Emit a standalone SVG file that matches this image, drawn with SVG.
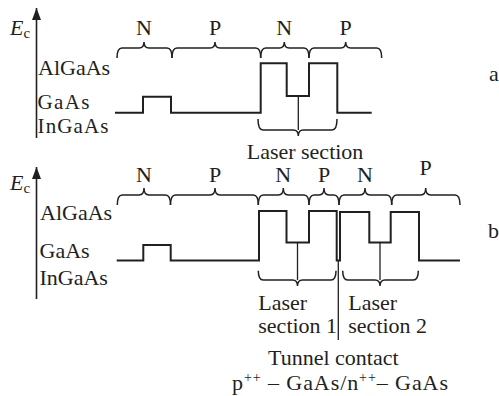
<svg xmlns="http://www.w3.org/2000/svg" width="499" height="396" viewBox="0 0 499 396">
<style>
text{font-family:"Liberation Serif","Times New Roman",serif;font-size:22px;fill:#231f20}
.mid{text-anchor:middle}
.tight{font-size:21px}
.wave{fill:none;stroke:#231f20;stroke-width:2;stroke-linejoin:miter}
.brace{fill:none;stroke:#231f20;stroke-width:1.5}
.thin{fill:none;stroke:#231f20;stroke-width:1.3}
.axis{fill:none;stroke:#231f20;stroke-width:1.6}
.ital{font-style:italic}
.sub{font-size:15px;font-style:normal}
.sup{font-size:14px}
</style>
<defs>
<marker id="arr" markerUnits="userSpaceOnUse" markerWidth="13" markerHeight="10" refX="12" refY="4.5" orient="auto">
<path d="M0,0 L12,4.5 L0,9 z" fill="#231f20"/>
</marker>
</defs>

<!-- Panel a -->
<g id="panel-a">
<g id="axis-a">
<line class="axis" x1="36.5" y1="138" x2="36.5" y2="8" marker-end="url(#arr)"/>
<text x="10" y="35" class="ital">E<tspan class="sub" dy="3">c</tspan></text>
</g>
<g id="labels-a">
<text x="38" y="75">AlGaAs</text>
<text class="tight" x="37.5" y="108.5" textLength="52">GaAs</text>
<text class="tight" x="37.5" y="132.5" textLength="71">InGaAs</text>
<text x="489" y="80.5">a</text>
</g>
<g id="wave-a">
<path class="wave" d="M115,112.7 H143 V96.7 H171 V112.7 H260.7 V63.3 H286.7 V96 H309 V63.3 H337.3 V112.7 H371.7"/>
</g>
<g id="braces-a">
<path class="brace" d="M117,58 Q117,48 122,48 L139,48 Q144,48 144,42 Q144,48 149,48 L167,48 Q172,48 172,58"/>
<path class="brace" d="M172,58 Q172,48 177,48 L210,48 Q215,48 215,42 Q215,48 220,48 L255.7,48 Q260.7,48 260.7,58"/>
<path class="brace" d="M260.7,58 Q260.7,48 265.7,48 L279.3,48 Q284.3,48 284.3,42 Q284.3,48 289.3,48 L304,48 Q309,48 309,58"/>
<path class="brace" d="M309,58 Q309,48 314,48 L340.7,48 Q345.7,48 345.7,42 Q345.7,48 350.7,48 L376.7,48 Q381.7,48 381.7,58"/>
<text class="mid" x="144" y="35">N</text>
<text class="mid" x="215" y="35">P</text>
<text class="mid" x="284.3" y="35">N</text>
<text class="mid" x="345.7" y="35">P</text>
</g>
<g id="laser-section-a">
<line class="thin" x1="298.3" y1="96" x2="298.3" y2="130"/>
<path class="brace" d="M258,119 Q258,130 263,130 L293.3,130 Q298.3,130 298.3,136 Q298.3,130 303.3,130 L332,130 Q337,130 337,119"/>
<text x="246.7" y="158.5">Laser section</text>
</g>
</g>

<!-- Panel b -->
<g id="panel-b">
<g id="axis-b">
<line class="axis" x1="36.5" y1="299" x2="36.5" y2="167" marker-end="url(#arr)"/>
<text x="10" y="190" class="ital">E<tspan class="sub" dy="3">c</tspan></text>
</g>
<g id="labels-b">
<text x="40" y="220">AlGaAs</text>
<text x="39.5" y="258">GaAs</text>
<text x="39.5" y="285">InGaAs</text>
<text x="488" y="238">b</text>
</g>
<g id="wave-b">
<path class="wave" d="M116.7,260.5 H143.3 V245 H170.7 V260.5 H259 V211 H286.5 V242.5 H309 V211 H336.7 V260.5 H340 V212 H369.3 V242.5 H390.7 V212 H419 V260.5 H460"/>
</g>
<g id="braces-b">
<path class="brace" d="M117.3,205 Q117.3,195 122.3,195 L139,195 Q144,195 144,188 Q144,195 149,195 L165.5,195 Q170.5,195 170.5,205"/>
<path class="brace" d="M170.5,205 Q170.5,195 175.5,195 L210,195 Q215,195 215,188 Q215,195 220,195 L253.3,195 Q258.3,195 258.3,205"/>
<path class="brace" d="M258.3,205 Q258.3,195 263.3,195 L278.3,195 Q283.3,195 283.3,188 Q283.3,195 288.3,195 L304,195 Q309,195 309,205"/>
<path class="brace" d="M309,205 Q309,195 314,195 L319,195 Q324,195 324,188 Q324,195 329,195 L334,195 Q339,195 339,205"/>
<path class="brace" d="M339,205 Q339,195 344,195 L360,195 Q365,195 365,188 Q365,195 370,195 L386.7,195 Q391.7,195 391.7,205"/>
<path class="brace" d="M391.7,205 Q391.7,195 396.7,195 L420.7,195 Q425.7,195 425.7,188 Q425.7,195 430.7,195 L455,195 Q460,195 460,205"/>
<text class="mid" x="144" y="181.7">N</text>
<text class="mid" x="215" y="181.7">P</text>
<text class="mid" x="283.3" y="182">N</text>
<text class="mid" x="324" y="182">P</text>
<text class="mid" x="365" y="181.7">N</text>
<text class="mid" x="425.7" y="175">P</text>
</g>
<g id="laser-section-1">
<line class="thin" x1="297.5" y1="242.5" x2="297.5" y2="280"/>
<path class="brace" d="M258.3,270.7 Q258.3,280 263.3,280 L292.5,280 Q297.5,280 297.5,286 Q297.5,280 302.5,280 L331,280 Q336,280 336,270.7"/>
<text x="258.3" y="310">Laser</text>
<text x="258.3" y="333.3">section 1</text>
</g>
<g id="laser-section-2">
<line class="thin" x1="380" y1="242.5" x2="380" y2="280"/>
<path class="brace" d="M342.7,270.7 Q342.7,280 347.7,280 L375,280 Q380,280 380,286 Q380,280 385,280 L413.3,280 Q418.3,280 418.3,270.7"/>
<text x="348.3" y="310">Laser</text>
<text x="348.3" y="333.3">section 2</text>
</g>
<g id="tunnel-contact">
<line class="thin" x1="338.3" y1="260.5" x2="338.3" y2="340"/>
<text x="268" y="365">Tunnel contact</text>
<text x="232" y="390" textLength="216" lengthAdjust="spacing">p<tspan class="sup" dy="-8">++</tspan><tspan dy="8"> – GaAs/n</tspan><tspan class="sup" dy="-8">++</tspan><tspan dy="8">– GaAs</tspan></text>
</g>
</g>
</svg>
